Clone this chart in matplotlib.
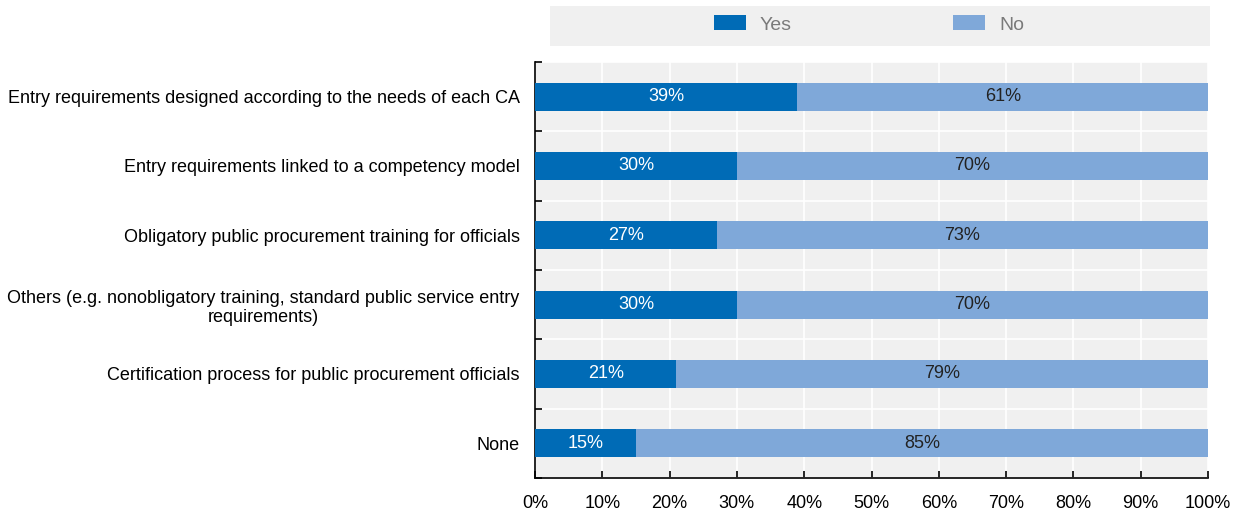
import matplotlib
matplotlib.use("Agg")
import matplotlib.pyplot as plt
from matplotlib.patches import Rectangle

plt.rcParams['font.family'] = ['Liberation Sans', 'DejaVu Sans']

categories = [
    "Entry requirements designed according to the needs of each CA",
    "Entry requirements linked to a competency model",
    "Obligatory public procurement training for officials",
    "Others (e.g. nonobligatory training, standard public service entry\nrequirements)",
    "Certification process for public procurement officials",
    "None",
]
yes_vals = [39, 30, 27, 30, 21, 15]
no_vals = [61, 70, 73, 70, 79, 85]
series_names = ["Yes", "No"]
x_ticks = [0, 10, 20, 30, 40, 50, 60, 70, 80, 90, 100]

YES_COLOR = "#006bb6"
NO_COLOR = "#7fa8d9"
BG = "#f0f0f0"
FS = 13

fig = plt.figure(figsize=(12.45, 5.16), dpi=100)
ax = fig.add_axes([535 / 1245, 1 - 478 / 516, (1208 - 535) / 1245, (478 - 62) / 516])
ax.set_facecolor(BG)

n = len(categories)
pos = list(range(n))
bar_h = 0.4
b1 = ax.barh(pos, yes_vals, height=bar_h, color=YES_COLOR, label=series_names[0], zorder=3)
b2 = ax.barh(pos, no_vals, left=yes_vals, height=bar_h, color=NO_COLOR, label=series_names[1], zorder=3)

for i in pos:
    ax.text(yes_vals[i] / 2, i, f"{yes_vals[i]}%", ha="center", va="center",
            color="white", fontsize=FS, zorder=4)
    ax.text(yes_vals[i] + no_vals[i] / 2, i, f"{no_vals[i]}%", ha="center", va="center",
            color="#222222", fontsize=FS, zorder=4)

ax.set_xlim(0, 100)
ax.set_ylim(n - 0.5, -0.5)
ax.set_xticks(x_ticks)
ax.set_xticklabels([f"{t}%" for t in x_ticks], fontsize=FS)
ax.set_yticks(pos)
ax.set_yticklabels(categories, fontsize=FS, multialignment="center")
ax.tick_params(axis="y", length=0, pad=11)
ax.set_yticks([i - 0.5 for i in range(n + 1)], minor=True)
ax.tick_params(axis="y", which="minor", direction="in", length=5, width=1.2, color="black")
ax.tick_params(axis="x", direction="in", length=5, width=1.2, pad=12, color="black")

ax.grid(True, axis="x", color="white", linewidth=1.2, zorder=1)
ax.grid(True, axis="y", which="minor", color="white", linewidth=1.2, zorder=1)
ax.set_axisbelow(True)

for s in ["top", "right"]:
    ax.spines[s].set_visible(False)
ax.spines["left"].set_linewidth(1.2)
ax.spines["bottom"].set_linewidth(1.2)

# Legend strip above the plot
fig.patches.append(Rectangle((550 / 1245, 1 - 46 / 516), (1210 - 550) / 1245, 40 / 516,
                             transform=fig.transFigure, facecolor=BG, edgecolor="none", zorder=0))
leg = fig.legend(handles=[b1, b2], labels=series_names, loc="center",
                 bbox_to_anchor=(869 / 1245, 1 - 24.5 / 516), ncol=2, frameon=False,
                 fontsize=14, handlelength=1.65, handleheight=0.82, columnspacing=8.3,
                 handletextpad=0.72, borderpad=0, borderaxespad=0)
for t in leg.get_texts():
    t.set_color("#7a7a7a")

fig.savefig("out.png", dpi=100)
